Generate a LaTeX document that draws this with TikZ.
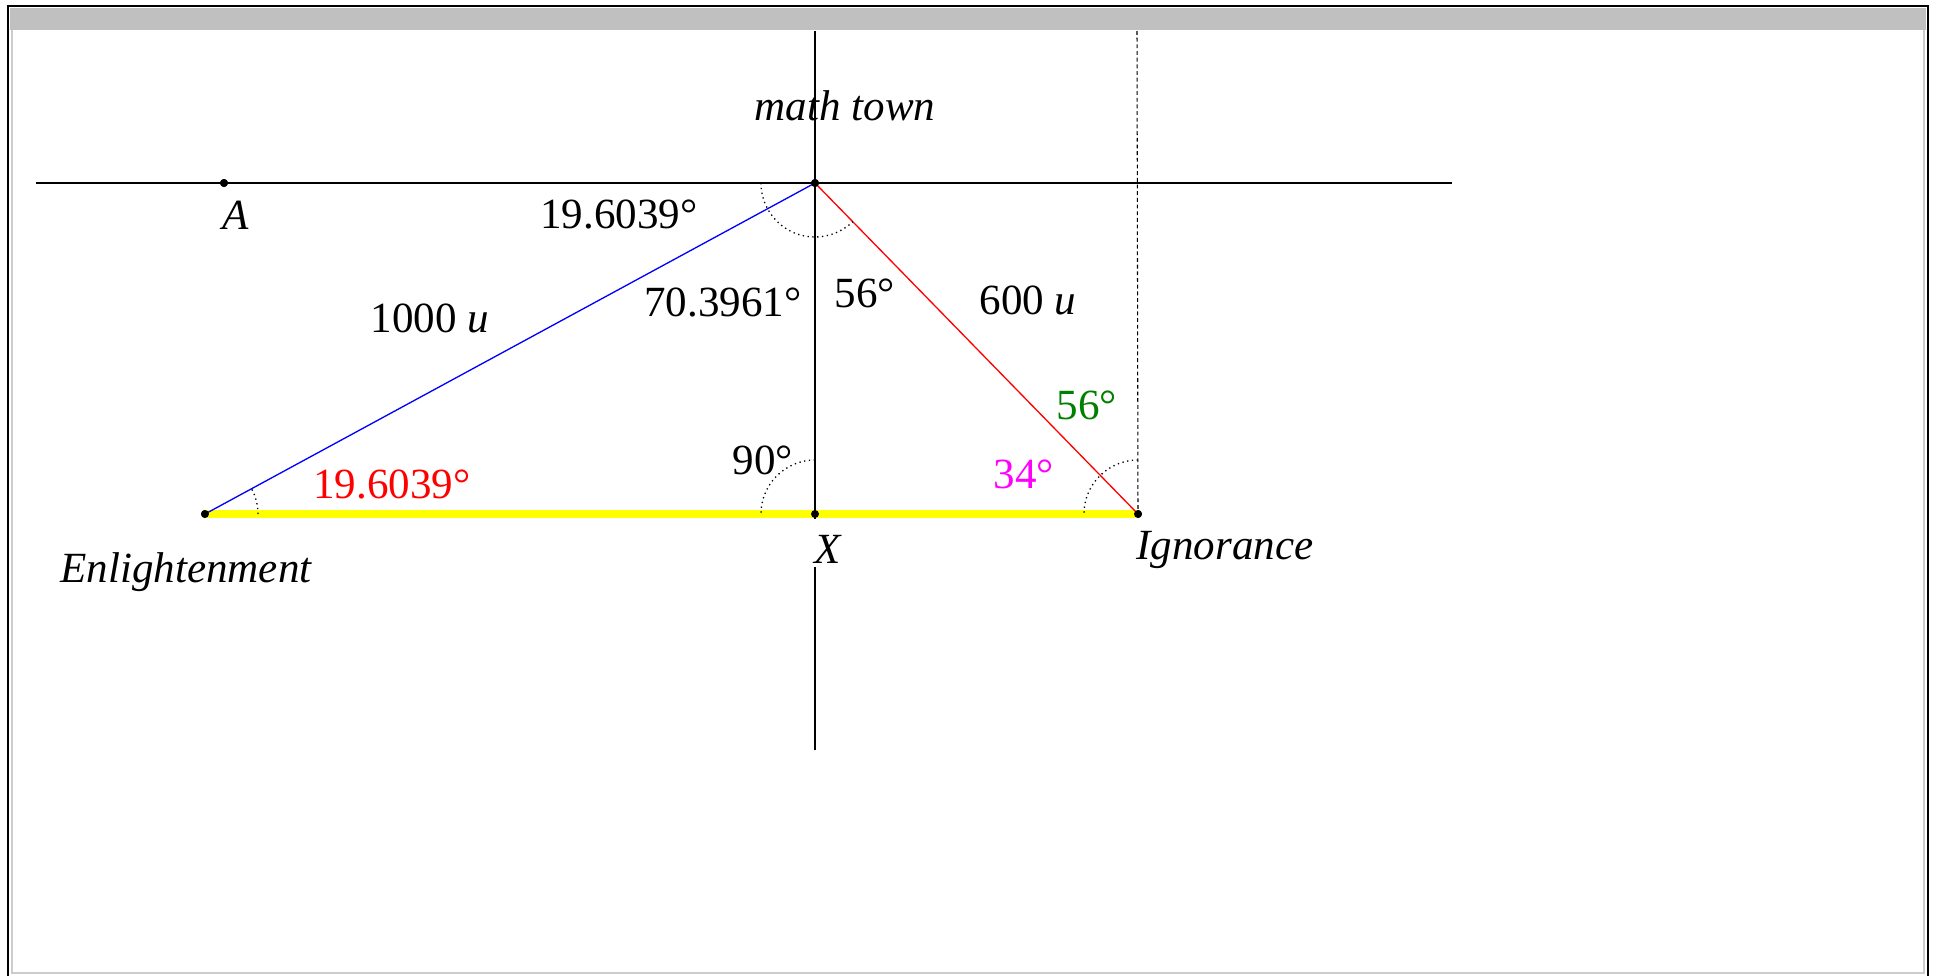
\documentclass[tikz,border=0pt]{standalone}
\usepackage{fontspec}
\setmainfont{Liberation Serif}
\definecolor{band}{HTML}{C0C0C0}
\definecolor{dgreen}{HTML}{008000}
\definecolor{pmagenta}{HTML}{FF00FF}
\definecolor{pyellow}{HTML}{FFFF00}
\definecolor{pred}{HTML}{FF0000}
\definecolor{pblue}{HTML}{0000FF}
\begin{document}
\begin{tikzpicture}[x=0.02cm,y=0.02cm,
  lbl/.style={anchor=base,inner sep=0pt,font=\fontsize{24.5}{29}\selectfont},
  ptdot/.style={circle,fill=black,inner sep=0pt,minimum size=0.16cm},
  thinline/.style={line width=0.6pt},
  anglearc/.style={line width=0.75pt,dotted}]
\useasboundingbox (0,0) rectangle (1935,-975);
\begin{scope}
\clip (0,0) rectangle (1935,-975);
% frame
\fill[band] (10,-8) rectangle (1926,-30);
\draw[black!20,line width=1.2pt] (12,-30) -- (12,-973) -- (1924,-973) -- (1924,-30);
\draw[line width=1.6pt] (8,-990) -- (8,-6) -- (1928,-6) -- (1928,-990);
\end{scope}
% coordinates
\coordinate (hl) at (36,-183);
\coordinate (hr) at (1452,-183);
\coordinate (vt) at (815,-31);
\coordinate (vb) at (815,-750);
\coordinate (dt) at (1137,-31);
% points
\node[ptdot] (M) at (815,-183) {};
\node[ptdot] (A) at (224,-183) {};
\node[ptdot] (E) at (205,-514) {};
\node[ptdot] (X) at (815,-514) {};
\node[ptdot] (I) at (1138,-514) {};
% yellow base
\draw[pyellow,line width=4pt] (E.center) -- (I.center);
% axes lines
\draw[thinline] (hl) -- (hr);
\draw[thinline] (vt) -- (vb);
\draw[line width=0.6pt,dash pattern=on 2.2pt off 1.6pt] (dt) -- (I.center);
% triangle sides
\draw[pblue,line width=0.75pt] (E.center) -- (M.center);
\draw[pred,line width=0.75pt] (M.center) -- (I.center);
% angle arcs
\draw[anglearc] (M.center) ++(-54,0) arc[start angle=180,end angle=314.3,radius=54];
\draw[anglearc] (E.center) ++(53,0) arc[start angle=0,end angle=28.5,radius=53];
\draw[anglearc] (X.center) ++(0,54) arc[start angle=90,end angle=180,radius=54];
\draw[anglearc] (I.center) ++(0,54) arc[start angle=90,end angle=180,radius=54];
% labels
\node[lbl] (lmt) at (845,-120) {\itshape math town};
\node[lbl] (lA) at (236,-229) {\itshape A};
\node[lbl] (la1) at (619,-228) {19.6039°};
\node[lbl] (l1000) at (430,-332) {1000 \itshape u};
\node[lbl] (la2) at (723,-316) {70.3961°};
\node[lbl] (la3) at (865,-307) {56°};
\node[lbl] (l600) at (1028,-314) {600 \itshape u};
\node[lbl,text=dgreen] (la4) at (1087,-419) {56°};
\node[lbl,text=pmagenta] (la5) at (1024,-488) {34°};
\node[lbl] (la6) at (763,-474) {90°};
\node[lbl,text=pred] (la7) at (392,-498) {19.6039°};
\node[lbl,fill=white,inner xsep=1pt,text height=25pt,text depth=2.3pt] (lX) at (828,-563) {\itshape X};
\node[lbl,anchor=base] (lE) at (186,-582) {\itshape Enlightenment};
\node[lbl,anchor=base west] (lI) at (1136,-559) {\itshape Ignorance};
% dots on top
\foreach \p in {M,A,E,X,I} \fill (\p.center) circle (4);
\end{tikzpicture}
\end{document}
